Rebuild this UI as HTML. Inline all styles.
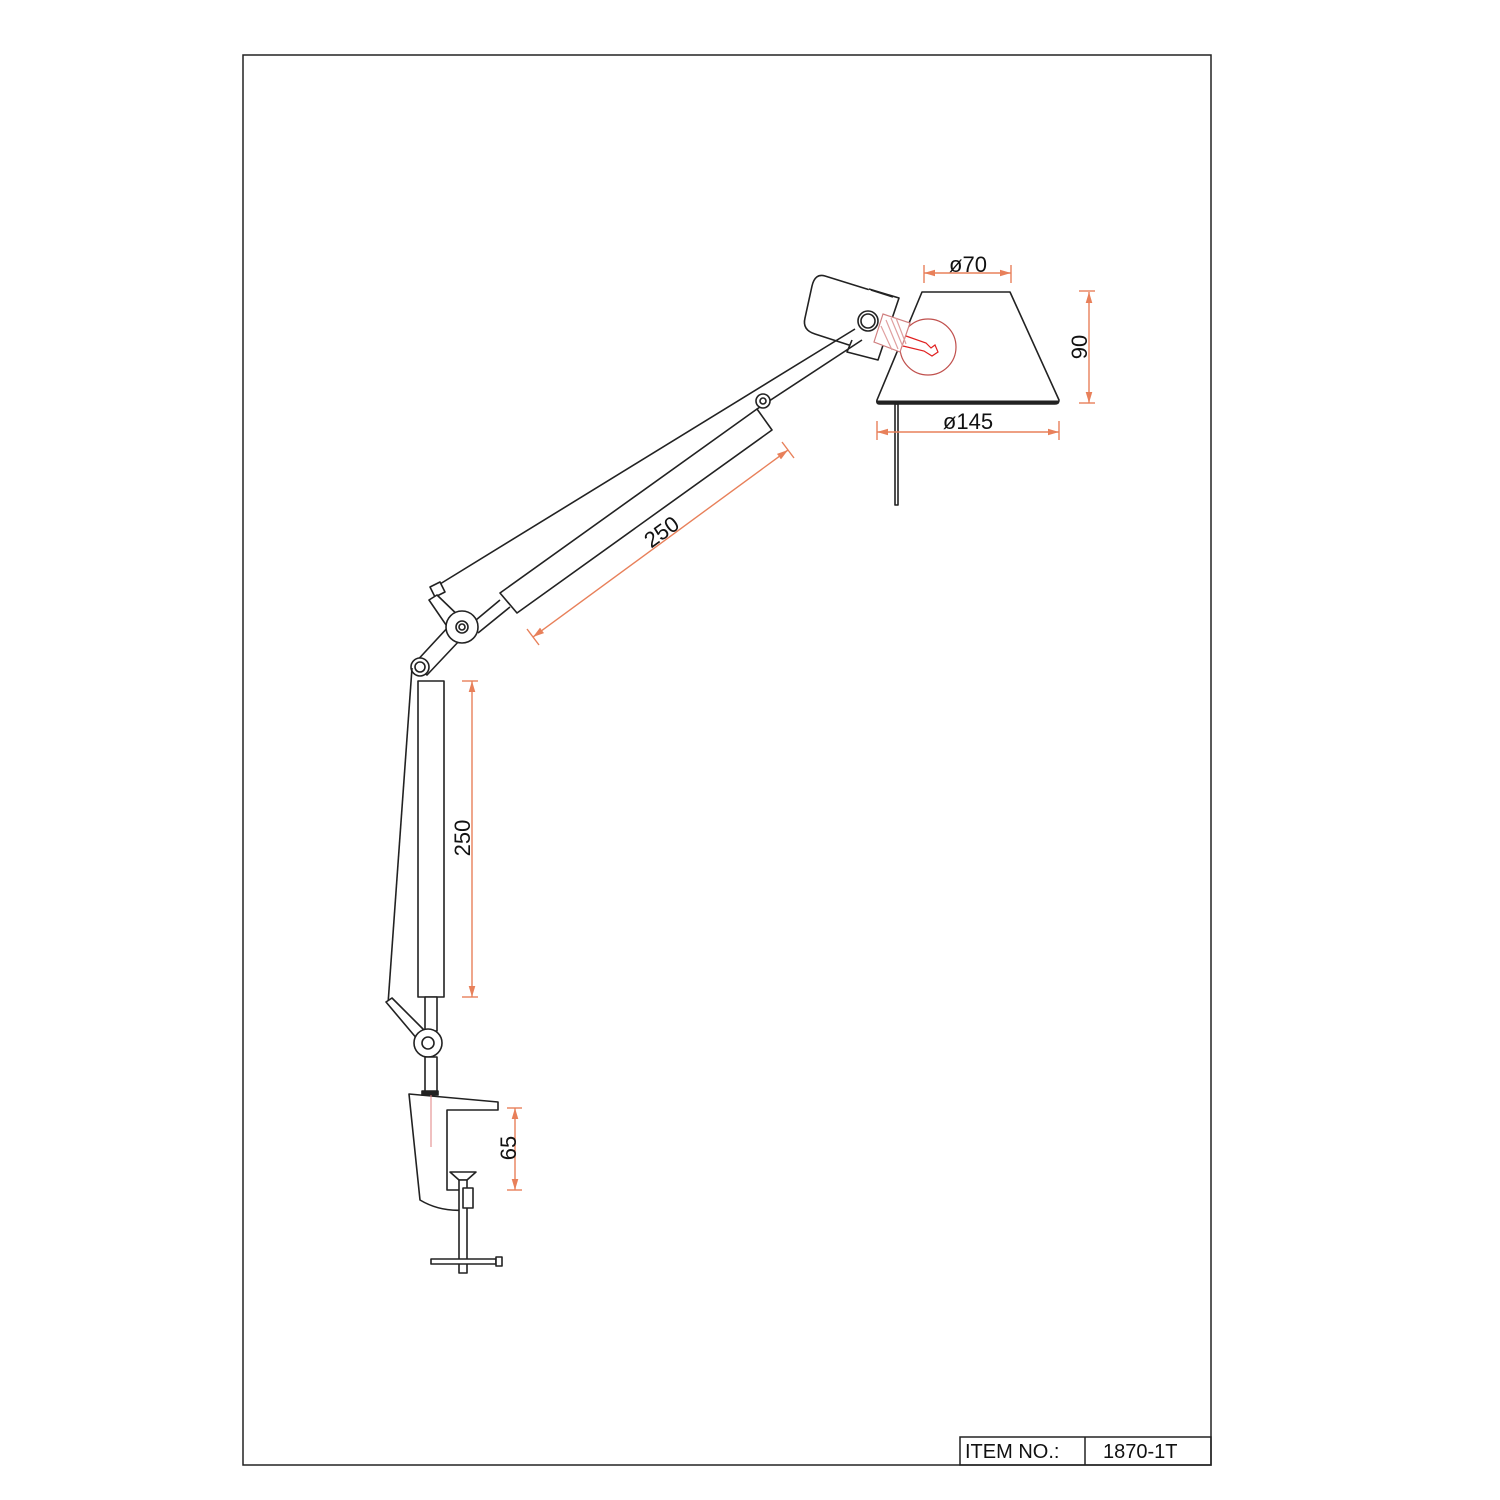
<!DOCTYPE html>
<html><head><meta charset="utf-8"><style>body{margin:0;background:#fff}svg{display:block}</style></head><body>
<svg width="1500" height="1500" viewBox="0 0 1500 1500" xmlns="http://www.w3.org/2000/svg" font-family="Liberation Sans, sans-serif">
<defs>
<marker id="a" viewBox="0 0 10 10" refX="10" refY="5" markerWidth="8" markerHeight="8" orient="auto-start-reverse"><path d="M0,2 L10,5 L0,8 z" fill="#e8805a"/></marker>
</defs>
<rect x="243" y="55" width="968" height="1410" fill="none" stroke="#222" stroke-width="1.5"/>
<rect x="960" y="1437" width="251" height="28" fill="none" stroke="#222" stroke-width="1.5"/>
<line x1="1085" y1="1437" x2="1085" y2="1465" stroke="#222" stroke-width="1.5"/>
<text x="965" y="1458" font-size="20" fill="#111">ITEM NO.:</text>
<text x="1103" y="1458" font-size="20" fill="#111">1870-1T</text>

<g fill="none" stroke="#222" stroke-width="1.6" stroke-linejoin="round">
<path d="M922,292 L1010,292 L1059,400 Q1059,404 1055,404 L880,404 Q876,404 877,400 Z" fill="#fff"/>
<line x1="877" y1="402" x2="1059" y2="402" stroke-width="3"/>
<rect x="895" y="404" width="3" height="101"/>
<!-- head -->
<path d="M825,276 L870,290 L852,346 L815,334 Q802,330 805,318 L812,286 Q815,273 825,276 Z" fill="#fff"/>
<path d="M869,289 L899,298 L878,360 L847,352 L852,340" fill="#fff"/>
<path d="M871,290 L893,297"/>
<circle cx="868" cy="321" r="10" fill="#fff"/>
<circle cx="868" cy="321" r="7"/>
</g>
<g fill="none" stroke="#c0504d" stroke-width="1.2">
<circle cx="928" cy="347" r="28" fill="#fff"/>
<path d="M883,314 L910,323 L900,352 L874,342 Z" fill="#fff" stroke="#d08080"/>
<path d="M886,320 L898,349 M891,318 L903,347 M896,318 L906,344 M881,326 L892,350" stroke="#e0a0a0"/>
<path d="M906,336 L926,343 L931,348 L935,345 L938,352 L932,356 L924,351 L903,346" stroke="#e02020"/>
</g>
<g fill="none" stroke="#222" stroke-width="1.6" stroke-linejoin="round">
<line x1="440" y1="584" x2="855" y2="329"/>
<line x1="757" y1="409" x2="862" y2="340"/>
<path d="M500,593 L757,409 L772,430 L517,613 Z" fill="#fff"/>
<path d="M470,625 L500,600 M478,633 L510,607"/>
<circle cx="763" cy="401" r="7" fill="#fff"/><circle cx="763" cy="401" r="3"/>
<path d="M430,587 L440,582 L445,592 L435,597 Z" fill="#fff"/>
<path d="M437,595 L465,622 L455,638 L429,600 Z" fill="#fff"/>
<path d="M413,665 L450,625 L460,640 L427,675 Z" fill="#fff"/>
<circle cx="462" cy="627" r="16" fill="#fff"/>
<circle cx="462" cy="627" r="6"/><circle cx="462" cy="627" r="3"/>
<circle cx="420" cy="667" r="9" fill="#fff"/><circle cx="420" cy="667" r="5"/>
<rect x="418" y="681" width="26" height="316" fill="#fff"/>
<line x1="412" y1="668" x2="388" y2="1004"/>
<rect x="425" y="997" width="12" height="34" fill="#fff"/>
<path d="M386,1002 L392,998 L424,1030 L418,1040 Z" fill="#fff"/>
<circle cx="428" cy="1043" r="14" fill="#fff"/>
<circle cx="428" cy="1043" r="6"/>
<rect x="425" y="1057" width="12" height="37" fill="#fff"/>
<path d="M409,1094 L498,1102 L498,1110 L447,1110 L447,1190 L465,1190 L465,1210 Q440,1212 420,1200 L409,1094 Z" fill="#fff"/>
<rect x="422" y="1091" width="16" height="4" fill="#222"/>
<path d="M450,1172 L476,1172 L467,1180 L459,1180 Z"/>
<rect x="459" y="1180" width="8" height="93" fill="#fff"/>
<rect x="463" y="1188" width="10" height="20" fill="#fff"/>
<rect x="431" y="1259" width="65" height="5" fill="#fff"/>
<rect x="496" y="1257" width="6" height="9" fill="#fff"/>
</g>
<line x1="431" y1="1095" x2="431" y2="1147" stroke="#e08080" stroke-width="1"/>

<g stroke="#e8805a" stroke-width="1.4" fill="none">
<line x1="924" y1="273" x2="1011" y2="273" marker-start="url(#a)" marker-end="url(#a)"/>
<line x1="924" y1="265" x2="924" y2="283"/><line x1="1011" y1="265" x2="1011" y2="283"/>
<line x1="1089" y1="292" x2="1089" y2="403" marker-start="url(#a)" marker-end="url(#a)"/>
<line x1="1079" y1="291" x2="1095" y2="291"/><line x1="1079" y1="403" x2="1095" y2="403"/>
<line x1="877" y1="432" x2="1059" y2="432" marker-start="url(#a)" marker-end="url(#a)"/>
<line x1="877" y1="421" x2="877" y2="440"/><line x1="1059" y1="421" x2="1059" y2="440"/>
<line x1="533" y1="637" x2="788" y2="450" marker-start="url(#a)" marker-end="url(#a)"/>
<line x1="527" y1="629" x2="539" y2="645"/><line x1="782" y1="442" x2="794" y2="458"/>
<line x1="472" y1="681" x2="472" y2="997" marker-start="url(#a)" marker-end="url(#a)"/>
<line x1="462" y1="681" x2="478" y2="681"/><line x1="462" y1="997" x2="478" y2="997"/>
<line x1="515" y1="1108" x2="515" y2="1190" marker-start="url(#a)" marker-end="url(#a)"/>
<line x1="507" y1="1108" x2="522" y2="1108"/><line x1="507" y1="1190" x2="522" y2="1190"/>
</g>
<g font-size="22" fill="#111" text-anchor="middle">
<text x="968" y="272">ø70</text>
<text x="968" y="429">ø145</text>
<text transform="translate(1087,347) rotate(-90)">90</text>
<text transform="translate(666,538) rotate(-36)">250</text>
<text transform="translate(470,838) rotate(-90)">250</text>
<text transform="translate(516,1148) rotate(-90)">65</text>
</g>
</svg>
</body></html>
